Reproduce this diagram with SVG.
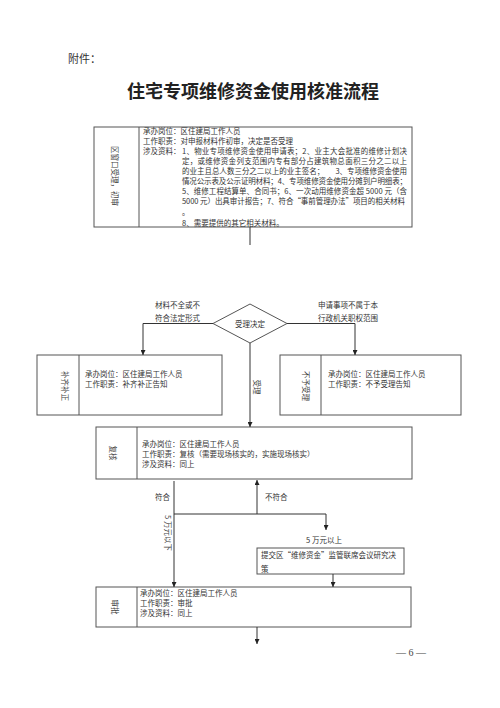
<svg xmlns="http://www.w3.org/2000/svg" width="500" height="708" viewBox="0 0 500 708">
<defs>
<marker id="ah" viewBox="0 0 10 10" refX="10" refY="5" markerWidth="5" markerHeight="5" orient="auto" markerUnits="userSpaceOnUse">
<path d="M0,0 L10,5 L0,10 z" fill="#222"/>
</marker>
</defs>
<style>
.box{fill:none;stroke:#555;stroke-width:1}
.ln{fill:none;stroke:#333;stroke-width:1}
.t{font-family:"Noto Sans CJK SC","Liberation Serif",serif;font-size:7.5px;fill:#333;dominant-baseline:central}
.v{font-family:"Noto Sans CJK SC","Liberation Serif",serif;font-size:7.5px;fill:#444;dominant-baseline:central;text-anchor:middle}
.lbl{font-family:"Noto Sans CJK SC","Liberation Serif",serif;font-size:7.5px;fill:#333;dominant-baseline:central}
</style>
<rect width="500" height="708" fill="#fff"/>
<text x="68" y="58" style="font-family:'Noto Sans CJK SC',sans-serif;font-size:11px;fill:#333;dominant-baseline:central">附件：</text>
<text x="253" y="90" text-anchor="middle" style="font-family:'Noto Sans CJK SC',sans-serif;font-size:18px;font-weight:bold;fill:#222;dominant-baseline:central">住宅专项维修资金使用核准流程</text>

<g id="node-review1">
<rect class="box" x="94" y="127" width="318" height="100"/>
<line class="box" x1="139" y1="127" x2="139" y2="227"/>
<text class="v" transform="translate(115,176) rotate(90)">区窗口受理，初审</text>
<text class="t" x="143" y="130.5">承办岗位：区住建局工作人员</text>
<text class="t" x="143" y="140.2">工作职责：对申报材料作初审，决定是否受理</text>
<text class="t" x="143" y="150">涉及资料：</text>
<text class="t" x="182" y="150" textLength="225" lengthAdjust="spacing">1、物业专项维修资金使用申请表；2、业主大会批准的维修计划决</text>
<text class="t" x="182" y="160.5" textLength="225" lengthAdjust="spacing">定，或维修资金列支范围内专有部分占建筑物总面积三分之二以上</text>
<text class="t" x="182" y="170.5" textLength="225" lengthAdjust="spacing">的业主且总人数三分之二以上的业主签名；　　3、专项维修资金使用</text>
<text class="t" x="182" y="180.5" textLength="225" lengthAdjust="spacing">情况公示表及公示证明材料；4、专项维修资金使用分摊到户明细表；</text>
<text class="t" x="182" y="190.5" textLength="225" lengthAdjust="spacing">5、维修工程结算单、合同书；6、一次动用维修资金超 5000 元（含</text>
<text class="t" x="182" y="200.7" textLength="223" lengthAdjust="spacing">5000 元）出具审计报告；7、符合“事前管理办法”项目的相关材料</text>
<text class="t" x="182" y="211.2">。</text>
<text class="t" x="182" y="222">8、需要提供的其它相关材料。</text>
</g>

<g id="node-decision">
<polygon class="box" points="250,304 287,323.5 250,343 213,323.5"/>
<text class="lbl" x="250" y="323.5" text-anchor="middle">受理决定</text>
</g>

<g id="node-supplement">
<rect class="box" x="37" y="355" width="185" height="60"/>
<line class="box" x1="79" y1="355" x2="79" y2="415"/>
<text class="v" transform="translate(65,386) rotate(90)">补齐补正</text>
<text class="t" x="85" y="373.5">承办岗位：区住建局工作人员</text>
<text class="t" x="85" y="383.5">工作职责：补齐补正告知</text>
</g>

<g id="node-reject">
<rect class="box" x="280" y="355" width="181" height="60"/>
<line class="box" x1="321" y1="355" x2="321" y2="415"/>
<text class="v" transform="translate(306,386) rotate(90)">不予受理</text>
<text class="t" x="328" y="373.5">承办岗位：区住建局工作人员</text>
<text class="t" x="328" y="383.5">工作职责：不予受理告知</text>
</g>

<g id="node-recheck">
<rect class="box" x="96" y="427" width="316" height="52"/>
<line class="box" x1="137" y1="427" x2="137" y2="479"/>
<text class="v" transform="translate(113,453) rotate(90)">复核</text>
<text class="t" x="142" y="443.5">承办岗位：区住建局工作人员</text>
<text class="t" x="142" y="453.5">工作职责：复核（需要现场核实的，实施现场核实）</text>
<text class="t" x="142" y="463.5">涉及资料：同上</text>
</g>

<g id="node-committee">
<rect class="box" x="257" y="548" width="147" height="26"/>
<text class="t" x="261" y="554">提交区“维修资金”监管联席会议研究决</text>
<text class="t" x="261" y="568">策</text>
</g>

<g id="node-approve">
<rect class="box" x="96" y="587" width="315" height="40"/>
<line class="box" x1="137" y1="587" x2="137" y2="627"/>
<text class="v" transform="translate(115,607) rotate(90)">审批</text>
<text class="t" x="140" y="592.5">承办岗位：区住建局工作人员</text>
<text class="t" x="140" y="602.5">工作职责：审批</text>
<text class="t" x="140" y="612.5">涉及资料：同上</text>
</g>

<g id="connectors">
<line class="ln" x1="250" y1="227" x2="250" y2="245"/>
<polyline class="ln" points="213,323.5 143,323.5 143,355" marker-end="url(#ah)"/>
<polyline class="ln" points="287,323.5 355,323.5 355,355" marker-end="url(#ah)"/>
<line class="ln" x1="250" y1="343" x2="250" y2="427" marker-end="url(#ah)"/>
<line class="ln" x1="174" y1="481" x2="174" y2="587" marker-end="url(#ah)"/>
<polyline class="ln" points="174,514 326,514 326,530" marker-end="url(#ah)"/>
<line class="ln" x1="257" y1="514" x2="257" y2="480" marker-end="url(#ah)"/>
<line class="ln" x1="333" y1="574" x2="333" y2="587" marker-end="url(#ah)"/>
<line class="ln" x1="257" y1="627" x2="257" y2="644" marker-end="url(#ah)"/>
<text class="lbl" x="155" y="304">材料不全或不</text>
<text class="lbl" x="155" y="317">符合法定形式</text>
<text class="lbl" x="318" y="304">申请事项不属于本</text>
<text class="lbl" x="318" y="317">行政机关职权范围</text>
<text class="v" transform="translate(257,387) rotate(90)">受理</text>
<text class="lbl" x="155" y="496">符合</text>
<text class="lbl" x="265" y="496">不符合</text>
<text class="v" transform="translate(168,533) rotate(90)">5 万元以下</text>
<text class="lbl" x="324" y="539" text-anchor="middle">5 万元以上</text>
</g>

<text x="411" y="652" text-anchor="middle" style="font-family:'Liberation Serif',serif;font-size:10px;fill:#444;dominant-baseline:central">— 6 —</text>
</svg>
